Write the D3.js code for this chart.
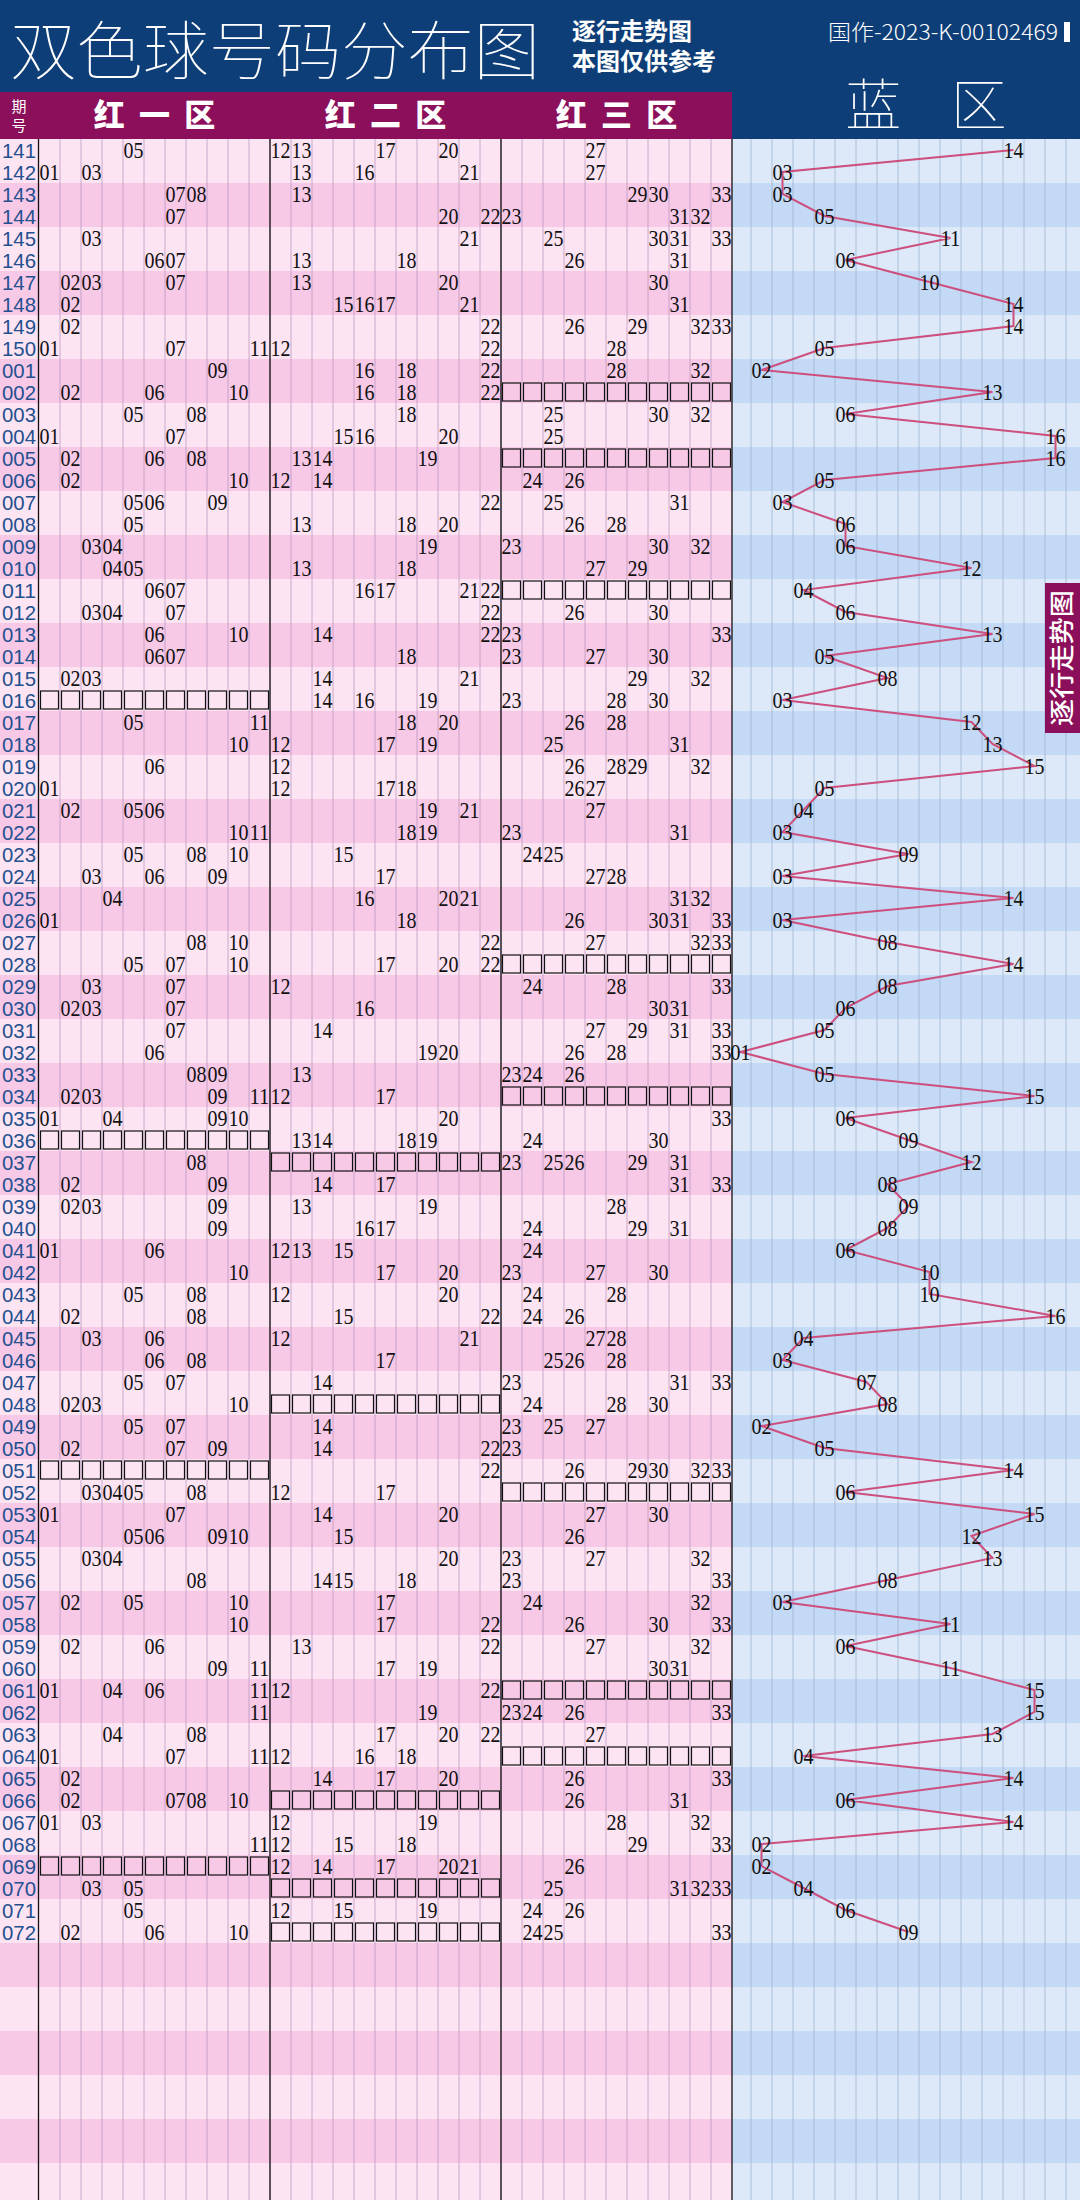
<!DOCTYPE html>
<html><head><meta charset="utf-8">
<script src="https://cdn.jsdelivr.net/npm/d3@7"></script>
<style>body{margin:0;background:#fff}svg{display:block}</style>
</head><body>
<script>
const periods=["141","142","143","144","145","146","147","148","149","150","001","002","003","004","005","006","007","008","009","010","011","012","013","014","015","016","017","018","019","020","021","022","023","024","025","026","027","028","029","030","031","032","033","034","035","036","037","038","039","040","041","042","043","044","045","046","047","048","049","050","051","052","053","054","055","056","057","058","059","060","061","062","063","064","065","066","067","068","069","070","071","072"];
const redNumbers=[
[5,12,13,17,20,27],[1,3,13,16,21,27],[7,8,13,29,30,33],[7,20,22,23,31,32],[3,21,25,30,31,33],
[6,7,13,18,26,31],[2,3,7,13,20,30],[2,15,16,17,21,31],[2,22,26,29,32,33],[1,7,11,12,22,28],
[9,16,18,22,28,32],[2,6,10,16,18,22],[5,8,18,25,30,32],[1,7,15,16,20,25],[2,6,8,13,14,19],
[2,10,12,14,24,26],[5,6,9,22,25,31],[5,13,18,20,26,28],[3,4,19,23,30,32],[4,5,13,18,27,29],
[6,7,16,17,21,22],[3,4,7,22,26,30],[6,10,14,22,23,33],[6,7,18,23,27,30],[2,3,14,21,29,32],
[14,16,19,23,28,30],[5,11,18,20,26,28],[10,12,17,19,25,31],[6,12,26,28,29,32],[1,12,17,18,26,27],
[2,5,6,19,21,27],[10,11,18,19,23,31],[5,8,10,15,24,25],[3,6,9,17,27,28],[4,16,20,21,31,32],
[1,18,26,30,31,33],[8,10,22,27,32,33],[5,7,10,17,20,22],[3,7,12,24,28,33],[2,3,7,16,30,31],
[7,14,27,29,31,33],[6,19,20,26,28,33],[8,9,13,23,24,26],[2,3,9,11,12,17],[1,4,9,10,20,33],
[13,14,18,19,24,30],[8,23,25,26,29,31],[2,9,14,17,31,33],[2,3,9,13,19,28],[9,16,17,24,29,31],
[1,6,12,13,15,24],[10,17,20,23,27,30],[5,8,12,20,24,28],[2,8,15,22,24,26],[3,6,12,21,27,28],
[6,8,17,25,26,28],[5,7,14,23,31,33],[2,3,10,24,28,30],[5,7,14,23,25,27],[2,7,9,14,22,23],
[22,26,29,30,32,33],[3,4,5,8,12,17],[1,7,14,20,27,30],[5,6,9,10,15,26],[3,4,20,23,27,32],
[8,14,15,18,23,33],[2,5,10,17,24,32],[10,17,22,26,30,33],[2,6,13,22,27,32],[9,11,17,19,30,31],
[1,4,6,11,12,22],[11,19,23,24,26,33],[4,8,17,20,22,27],[1,7,11,12,16,18],[2,14,17,20,26,33],
[2,7,8,10,26,31],[1,3,12,19,28,32],[11,12,15,18,29,33],[12,14,17,20,21,26],[3,5,25,31,32,33],
[5,12,15,19,24,26],[2,6,10,24,25,33]];
const blueNumbers=[14,3,3,5,11,6,10,14,14,5,2,13,6,16,16,5,3,6,6,12,4,6,13,5,8,3,12,13,15,5,4,3,9,3,14,3,8,14,8,6,5,1,5,15,6,9,12,8,9,8,6,10,10,16,4,3,7,8,2,5,14,6,15,12,13,8,3,11,6,11,15,15,13,4,14,6,14,2,2,4,6,9];
const zoneNames=["红 一 区","红 二 区","红 三 区"];

const W=1080,H=2200,top0=139,rowH=22;
const totalRows=Math.ceil((H-top0)/rowH);
const svg=d3.select("body").append("svg").attr("width",W).attr("height",H);
const xR=d3.scaleBand().domain(d3.range(1,34)).range([39,732]);
const xB=d3.scaleBand().domain(d3.range(1,17)).range([730,1066]);
const yAll=d3.scaleBand().domain(d3.range(totalRows)).range([top0,top0+totalRows*rowH]);
const y=i=>yAll(i);
const fmt=n=>String(n).padStart(2,"0");

const rows=d3.range(totalRows);
svg.selectAll("rect.rb").data(rows).join("rect").attr("x",0).attr("y",y).attr("width",732).attr("height",rowH)
 .attr("fill",i=>Math.floor(i/2)%2?"#f8c9e7":"#fde4f3");
svg.selectAll("rect.bb").data(rows).join("rect").attr("x",732).attr("y",y).attr("width",W-732).attr("height",rowH)
 .attr("fill",i=>Math.floor(i/2)%2?"#c3d9f5":"#dde9f9");
svg.append("g").selectAll("line").data(d3.range(1,33)).join("line")
 .attr("x1",d=>xR(d)+xR.bandwidth()).attr("x2",d=>xR(d)+xR.bandwidth()).attr("y1",top0).attr("y2",H)
 .attr("stroke","#b99ac0").attr("stroke-width",0.8);
svg.append("g").selectAll("line").data(d3.range(1,17)).join("line")
 .attr("x1",d=>xB(d)+xB.bandwidth()).attr("x2",d=>xB(d)+xB.bandwidth()).attr("y1",top0).attr("y2",H)
 .attr("stroke","#9fb3d0").attr("stroke-width",0.8);
[38.5,270,501,732].forEach(x=>svg.append("line").attr("x1",x).attr("x2",x).attr("y1",92).attr("y2",H).attr("stroke","#111").attr("stroke-width",1.3));

// header
svg.append("rect").attr("x",0).attr("y",0).attr("width",W).attr("height",139).attr("fill","#0e3e77");
svg.append("rect").attr("x",0).attr("y",92).attr("width",732).attr("height",47).attr("fill","#8c0f5b");
svg.append("text").attr("x",10).attr("y",74).attr("font-family","Noto Sans CJK SC").attr("font-weight",100)
 .attr("font-size",64).attr("fill","#fff").attr("textLength",530).attr("lengthAdjust","spacingAndGlyphs").text("双色球号码分布图");
svg.append("text").attr("x",572).attr("y",40).attr("font-family","Noto Sans CJK SC").attr("font-weight",700).attr("font-size",24).attr("fill","#fff").text("逐行走势图");
svg.append("text").attr("x",572).attr("y",70).attr("font-family","Noto Sans CJK SC").attr("font-weight",700).attr("font-size",24).attr("fill","#fff").text("本图仅供参考");
svg.append("text").attr("x",828).attr("y",40).attr("font-family","Noto Sans CJK SC").attr("font-weight",300).attr("font-size",22).attr("fill","#fff")
 .attr("textLength",230).attr("lengthAdjust","spacingAndGlyphs").text("国作-2023-K-00102469");
svg.append("rect").attr("x",1064).attr("y",22).attr("width",6).attr("height",20).attr("fill","#fff");
svg.append("text").attr("x",19).attr("y",112).attr("text-anchor","middle").attr("font-family","Noto Sans CJK SC").attr("font-size",15).attr("fill","#fff").text("期");
svg.append("text").attr("x",19).attr("y",131).attr("text-anchor","middle").attr("font-family","Noto Sans CJK SC").attr("font-size",15).attr("fill","#fff").text("号");
zoneNames.forEach((n,k)=>{
  const x0=xR(k*11+1),x1=xR(k*11+11)+xR.bandwidth();
  svg.append("text").attr("x",(x0+x1)/2).attr("y",126).attr("text-anchor","middle").attr("font-family","Noto Sans CJK SC")
   .attr("font-weight",900).attr("font-size",31).attr("fill","#fff").attr("xml:space","preserve").text(n.replace(/ /g,"  "));
});
svg.append("text").attr("x",926).attr("y",125).attr("text-anchor","middle").attr("font-family","Noto Sans CJK SC").attr("font-weight",100)
 .attr("font-size",56).attr("fill","#fff").attr("xml:space","preserve").text("蓝    区");

svg.append("g").selectAll("text").data(periods).join("text")
 .attr("x",36).attr("y",(d,i)=>y(i)+19).attr("text-anchor","end").attr("font-family","Liberation Sans").attr("font-size",21)
 .attr("fill","#23508f").attr("textLength",34).attr("lengthAdjust","spacingAndGlyphs").text(d=>d);

const numFont="Liberation Serif";
const g=svg.append("g");
redNumbers.forEach((nums,i)=>{
  g.selectAll(null).data(nums).join("text").attr("x",d=>xR(d)+xR.bandwidth()/2).attr("y",y(i)+19)
   .attr("text-anchor","middle").attr("font-family",numFont).attr("font-size",23).attr("fill","#111")
   .attr("textLength",20).attr("lengthAdjust","spacingAndGlyphs").text(fmt);
  [0,1,2].forEach(z=>{
    if(!nums.some(n=>n>z*11&&n<=z*11+11)){
      g.selectAll(null).data(d3.range(z*11+1,z*11+12)).join("rect")
       .attr("x",d=>xR(d)+1.5).attr("y",y(i)+2).attr("width",xR.bandwidth()-3).attr("height",rowH-4)
       .attr("fill","none").attr("stroke","#111").attr("stroke-width",1.2);
    }
  });
});

const line=d3.line().x(d=>xB(d.b)+xB.bandwidth()/2).y(d=>y(d.i)+rowH/2);
svg.append("path").datum(blueNumbers.map((b,i)=>({b,i}))).attr("d",line).attr("fill","none").attr("stroke","#cc4f7e").attr("stroke-width",2);
svg.append("g").selectAll("text").data(blueNumbers).join("text")
 .attr("x",d=>xB(d)+xB.bandwidth()/2).attr("y",(d,i)=>y(i)+19).attr("text-anchor","middle").attr("font-family",numFont)
 .attr("font-size",23).attr("fill","#111").attr("textLength",20).attr("lengthAdjust","spacingAndGlyphs").text(fmt);

svg.append("rect").attr("x",1045).attr("y",583).attr("width",35).attr("height",150).attr("fill","#8c0f5b");
svg.append("text").attr("transform","translate(1071,658) rotate(-90)").attr("text-anchor","middle").attr("font-family","Noto Sans CJK SC")
 .attr("font-weight",500).attr("font-size",25).attr("fill","#fff").attr("textLength",136).attr("lengthAdjust","spacingAndGlyphs").text("逐行走势图");
</script>
</body></html>
